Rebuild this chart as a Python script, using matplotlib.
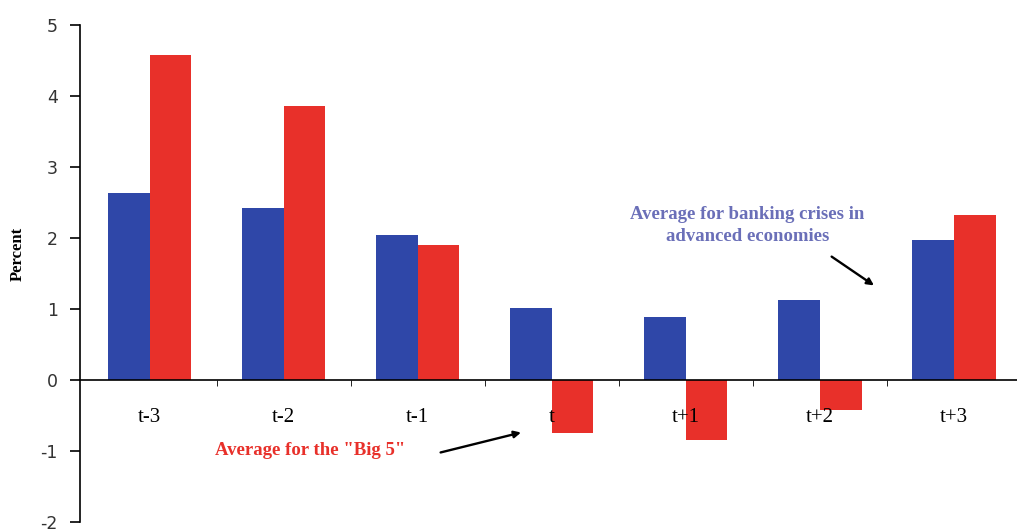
import matplotlib.pyplot as plt
import numpy as np

plt.rcParams['axes.unicode_minus'] = False

# Данные
periods = ['t-3', 't-2', 't-1', 't', 't+1', 't+2', 't+3']
advanced = [2.63, 2.42, 2.04, 1.01, 0.89, 1.13, 1.97]
big5 = [4.58, 3.86, 1.90, -0.75, -0.85, -0.42, 2.32]

blue = '#2f47a8'
red = '#e8302a'

fig = plt.figure(figsize=(10.17, 5.29), dpi=100)
ax = fig.add_axes([80 / 1017, 7 / 529, 937 / 1017, 497 / 529])

x = np.arange(len(periods))
w = 0.31
ax.bar(x - w / 2, advanced, w, color=blue, zorder=2)
ax.bar(x + w / 2, big5, w, color=red, zorder=2)

ax.set_xlim(-0.52, 6.47)
ax.set_ylim(-2, 5)

# Оси
for s in ['top', 'right']:
    ax.spines[s].set_visible(False)
ax.spines['bottom'].set_position(('data', 0))
ax.spines['bottom'].set_linewidth(1.2)
ax.spines['left'].set_linewidth(1.2)
ax.xaxis.set_zorder(4)

ax.set_xticks(x)
ax.set_xticklabels(periods, fontfamily='Liberation Serif', fontsize=15)
ax.tick_params(axis='x', which='major', length=0, pad=20)
ax.set_xticks(x[:-1] + 0.5, minor=True)
ax.tick_params(axis='x', which='minor', length=4, direction='out')

ax.set_yticks(range(-2, 6))
ax.tick_params(axis='y', length=7, width=1.2, pad=9, labelsize=12.5,
               labelcolor='#333333')
ax.set_ylabel('Percent', fontfamily='Liberation Serif', fontweight='bold',
              fontsize=12)
ax.yaxis.set_label_coords(-0.058, 0.54)

# Подписи
ax.text(4.46, 2.18, 'Average for banking crises in\nadvanced economies',
        ha='center', va='center', color='#6a6fb8', fontfamily='Liberation Serif',
        fontweight='bold', fontsize=13.5, linespacing=1.4)
ax.annotate('', xy=(5.42, 1.31), xytext=(5.07, 1.76),
            arrowprops=dict(arrowstyle='-|>', color='black', lw=1.7,
                            mutation_scale=10))

ax.text(1.2, -0.99, 'Average for the "Big 5"', ha='center', va='center',
        color='#e8302a', fontfamily='Liberation Serif', fontweight='bold',
        fontsize=13.5)
ax.annotate('', xy=(2.79, -0.73), xytext=(2.15, -1.03),
            arrowprops=dict(arrowstyle='-|>', color='black', lw=1.7,
                            mutation_scale=10))

fig.savefig('out.png', dpi=100)
